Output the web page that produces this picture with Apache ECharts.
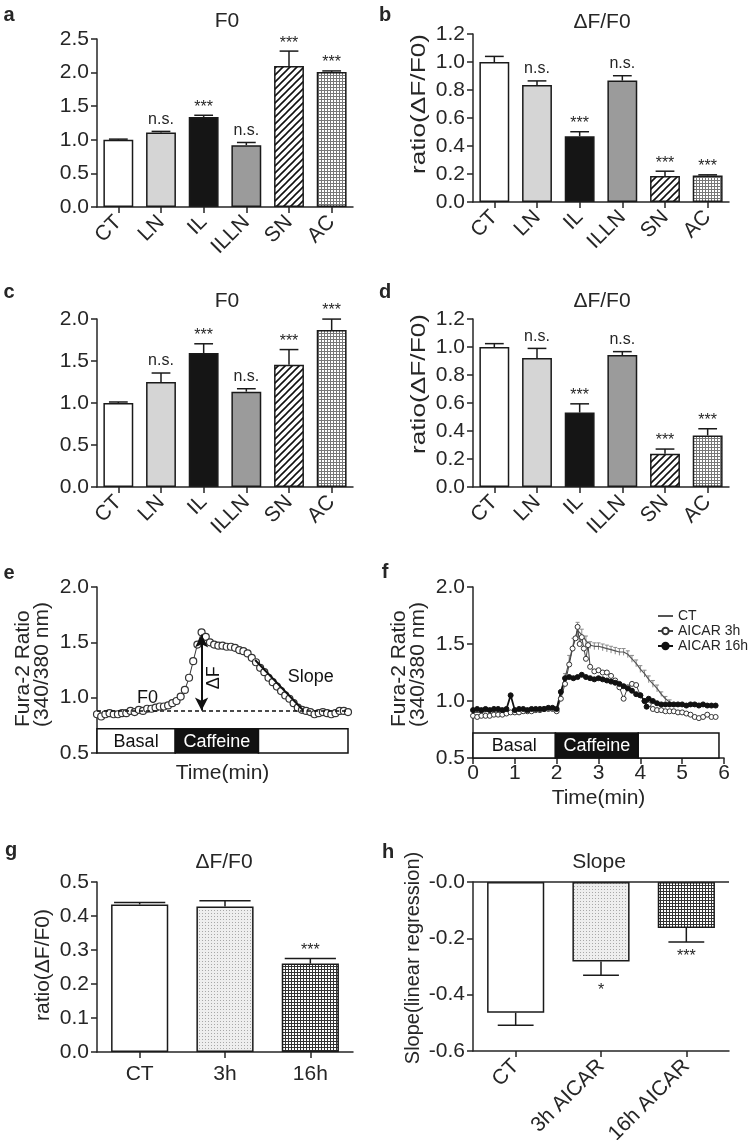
<!DOCTYPE html>
<html><head><meta charset="utf-8">
<script src="https://cdn.jsdelivr.net/npm/echarts@6/dist/echarts.min.js"></script>
<style>html,body{margin:0;padding:0;background:#fff}#c{width:752px;height:1140px}</style>
</head><body><div id="c"></div>
<script>
// ---------------- DATA ----------------
const groups6 = ['CT','LN','IL','ILLN','SN','AC'];
const aMean = [1.00, 1.11, 1.34, 0.92, 2.10, 2.01];
const aErr  = [0.01, 0.015, 0.025, 0.04, 0.22, 0.015];
const aSig  = ['', 'n.s.', '***', 'n.s.', '***', '***'];
const bMean = [1.00, 0.835, 0.47, 0.867, 0.185, 0.19];
const bErr  = [0.04, 0.03, 0.032, 0.035, 0.035, 0.004];
const bSig  = ['', 'n.s.', '***', 'n.s.', '***', '***'];
const cMean = [1.00, 1.25, 1.595, 1.135, 1.456, 1.869];
const cErr  = [0.012, 0.107, 0.11, 0.035, 0.18, 0.13];
const cSig  = ['', 'n.s.', '***', 'n.s.', '***', '***'];
const dMean = [1.00, 0.922, 0.532, 0.943, 0.238, 0.368];
const dErr  = [0.024, 0.068, 0.062, 0.024, 0.033, 0.048];
const dSig  = ['', 'n.s.', '***', 'n.s.', '***', '***'];

const eTime  = [0,0.1,0.2,0.3,0.4,0.5,0.6,0.7,0.8,0.9,1.0,1.1,1.2,1.3,1.4,1.5,1.6,1.7,1.8,1.9,2.0,2.1,2.2,2.3,2.4,2.5,2.6,2.7,2.8,2.9,3.0,3.1,3.2,3.3,3.4,3.5,3.6,3.7,3.8,3.9,4.0,4.1,4.2,4.3,4.4,4.5,4.6,4.7,4.8,4.9,5.0,5.1,5.2,5.3,5.4,5.5,5.6,5.7,5.8,5.9,6.0];
const eRatio = [0.85,0.83,0.85,0.86,0.85,0.85,0.86,0.86,0.88,0.87,0.89,0.88,0.90,0.90,0.91,0.92,0.92,0.93,0.95,0.97,1.01,1.07,1.18,1.33,1.48,1.59,1.55,1.50,1.48,1.47,1.47,1.46,1.46,1.45,1.43,1.42,1.40,1.36,1.32,1.27,1.23,1.18,1.14,1.10,1.06,1.02,0.99,0.95,0.91,0.89,0.88,0.87,0.85,0.86,0.87,0.86,0.85,0.86,0.88,0.88,0.87];
const eF0Level = 0.885;
const eDeltaF = [[2.5, 0.885], [2.5, 1.57]];
const eSlope  = [[3.78, 1.34], [4.93, 0.885]];
const eNotes  = [['F0', 1.21, 1.0], ['Slope', 5.11, 1.19], ['ΔF', 2.8, 1.18]];
const eStim   = [['Basal', 0, 1.87], ['Caffeine', 1.87, 3.86], ['', 3.86, 6]];
const fStim   = [['Basal', 0, 1.97], ['Caffeine', 1.97, 3.95], ['', 3.95, 5.88]];

const fCtTime = [0,0.2,0.4,0.6,0.8,1.0,1.2,1.4,1.6,1.8,2.0,2.1,2.2,2.3,2.4,2.5,2.6,2.7,2.8,2.9,3.0,3.1,3.2,3.3,3.4,3.5,3.6,3.7,3.8,3.9,4.0,4.1,4.2,4.3,4.4,4.5,4.6,4.7,4.8,5.0,5.2,5.4,5.6,5.8];
const fCt     = [0.90,0.90,0.91,0.91,0.91,0.91,0.92,0.92,0.92,0.93,0.93,1.05,1.20,1.35,1.50,1.62,1.58,1.53,1.49,1.48,1.48,1.47,1.46,1.45,1.44,1.43,1.43,1.41,1.37,1.33,1.28,1.24,1.19,1.15,1.11,1.06,1.02,0.99,0.97,0.97,0.97,0.97,0.96,0.96];
const fCtErr  = [0.01,0.01,0.01,0.01,0.01,0.01,0.01,0.01,0.01,0.01,0.01,0.03,0.04,0.05,0.05,0.07,0.05,0.04,0.03,0.03,0.03,0.03,0.03,0.03,0.03,0.03,0.03,0.03,0.03,0.03,0.03,0.03,0.03,0.03,0.03,0.02,0.02,0.02,0.01,0.01,0.01,0.01,0.01,0.01];
const f3hTime = [0,0.1,0.2,0.3,0.4,0.5,0.6,0.7,0.8,0.9,1.0,1.1,1.2,1.3,1.4,1.5,1.6,1.7,1.8,1.9,2.0,2.1,2.2,2.3,2.38,2.45,2.5,2.55,2.6,2.65,2.7,2.75,2.8,2.9,3.0,3.1,3.2,3.3,3.4,3.5,3.6,3.7,3.8,3.9,4.0,4.1,4.2,4.3,4.4,4.5,4.6,4.7,4.8,4.9,5.0,5.1,5.2,5.3,5.4,5.5,5.6,5.7,5.8];
const f3h     = [0.87,0.86,0.87,0.87,0.87,0.88,0.88,0.88,0.89,0.90,0.90,0.90,0.91,0.91,0.91,0.92,0.92,0.93,0.93,0.93,0.91,1.02,1.15,1.32,1.46,1.55,1.65,1.50,1.56,1.46,1.37,1.49,1.30,1.26,1.27,1.25,1.25,1.22,1.18,1.12,1.02,1.12,1.15,1.14,1.05,1.00,0.97,0.93,0.92,0.92,0.91,0.91,0.91,0.90,0.90,0.89,0.88,0.86,0.85,0.86,0.88,0.86,0.86];
const f16Time = [0,0.1,0.2,0.3,0.4,0.5,0.6,0.7,0.8,0.9,1.0,1.1,1.2,1.3,1.4,1.5,1.6,1.7,1.8,1.9,2.0,2.1,2.2,2.3,2.4,2.5,2.6,2.7,2.8,2.9,3.0,3.1,3.2,3.3,3.4,3.5,3.6,3.7,3.8,3.9,4.0,4.1,4.15,4.2,4.3,4.4,4.5,4.6,4.7,4.8,4.9,5.0,5.1,5.2,5.3,5.4,5.5,5.6,5.7,5.8];
const f16     = [0.92,0.93,0.92,0.93,0.92,0.93,0.93,0.92,0.93,1.05,0.92,0.93,0.93,0.92,0.93,0.93,0.93,0.93,0.94,0.94,0.93,1.08,1.20,1.21,1.20,1.21,1.23,1.21,1.20,1.19,1.20,1.19,1.18,1.17,1.16,1.15,1.13,1.11,1.09,1.06,1.05,1.00,0.95,1.02,1.00,0.98,0.97,0.97,0.97,0.97,0.97,0.97,0.96,0.97,0.97,0.96,0.97,0.96,0.96,0.96];
const fSeriesNames = ['CT', 'AICAR 3h', 'AICAR 16h'];

const groups3 = ['CT', '3h', '16h'];
const gMean = [0.434, 0.428, 0.26];
const gErr  = [0.006, 0.017, 0.015];
const gSig  = ['', '', '***'];
const hGroups = ['CT', '3h AICAR', '16h AICAR'];
const hMean = [-0.464, -0.282, -0.163];
const hErr  = [0.045, 0.049, 0.05];
const hSig  = ['', '*', '***'];

// ---------------- STYLE HELPERS ----------------
const FONT = '"Liberation Sans", Arial, sans-serif';
const INK = '#262626';
function pat(size, draw){ const c=document.createElement('canvas'); c.width=size; c.height=size; const x=c.getContext('2d'); draw(x,size); return {image:c, repeat:'repeat'}; }
const hatch = pat(7,(x,s)=>{x.fillStyle='#fff';x.fillRect(0,0,s,s);x.strokeStyle='#111';x.lineWidth=1.6;x.beginPath();x.moveTo(0,s);x.lineTo(s,0);x.moveTo(-1,1);x.lineTo(1,-1);x.moveTo(s-1,s+1);x.lineTo(s+1,s-1);x.stroke();});
const gridLight = pat(3,(x,s)=>{x.fillStyle='#fff';x.fillRect(0,0,s,s);x.fillStyle='#777';x.fillRect(0,0,s,1);x.fillRect(0,0,1,s);});
const gridDark = pat(3,(x,s)=>{x.fillStyle='#fff';x.fillRect(0,0,s,s);x.fillStyle='#333';x.fillRect(0,0,s,1);x.fillRect(0,0,1,s);});
const dots = pat(3,(x,s)=>{x.fillStyle='#eeeeee';x.fillRect(0,0,s,s);x.fillStyle='#a8a8a8';x.fillRect(1,1,1,1);});
const fills6 = ['#ffffff','#d5d5d5','#151515','#9b9b9b', hatch, gridLight];
const fills3 = ['#ffffff', dots, gridDark];

const axLine = {show:true, onZero:false, lineStyle:{color:INK, width:1.5}};
const axTick = {show:true, length:6, inside:false, lineStyle:{color:INK, width:1.5}};
const tickFont = {fontFamily:FONT, fontSize:21, color:INK};
const fmt1 = v => (Math.abs(v)<1e-9 ? '0.0' : v.toFixed(1));

const grids = [
  {left:97, top:39, width:256, height:168},
  {left:473, top:34, width:256, height:168},
  {left:97, top:319, width:256, height:168},
  {left:473, top:319, width:256, height:168},
  {left:97, top:587, width:251, height:166},
  {left:473, top:587, width:251, height:171},
  {left:97, top:882, width:256, height:170},
  {left:473, top:882, width:256, height:169}
].map(g => Object.assign({outerBoundsMode:'none', containLabel:false}, g));

function catAxis(i, cats, rot, margin){
  return {type:'category', gridIndex:i, data:cats, boundaryGap:true, axisLine:axLine,
    axisTick:Object.assign({alignWithLabel:true, interval:0}, axTick),
    axisLabel:Object.assign({rotate:rot, margin:margin, interval:0, hideOverlap:false}, tickFont), splitLine:{show:false}};
}
function valAxis(i, min, max, step, fmt){
  return {type:'value', gridIndex:i, min:min, max:max, interval:step, axisLine:Object.assign({}, axLine),
    axisTick:axTick, axisLabel:Object.assign({margin:8, formatter:fmt||fmt1, hideOverlap:false}, tickFont), splitLine:{show:false}};
}

function barSeries(i, vals, fills, bw){
  return {type:'bar', xAxisIndex:i, yAxisIndex:i, barWidth:bw, silent:true,
    data: vals.map((v,k)=>({value:v, itemStyle:{color:fills[k]}})),
    itemStyle:{borderColor:'#1a1a1a', borderWidth:1.5}};
}
function errSeries(i, vals, errs, sigs, capFrac){
  return {type:'custom', xAxisIndex:i, yAxisIndex:i, z:5, silent:true,
    data: vals.map((v,k)=>[k, v, errs[k]]),
    renderItem:(params, api)=>{
      const k=api.value(0), m=api.value(1), e=api.value(2);
      const below = m < 0;
      const end = below ? m - e : m + e;
      const p0=api.coord([k,m]), p1=api.coord([k,end]);
      const half = api.size([1,0])[0]*capFrac/2;
      const ch=[
        {type:'line', shape:{x1:p0[0],y1:p0[1],x2:p1[0],y2:p1[1]}, style:{stroke:'#1a1a1a', lineWidth:1.5}},
        {type:'line', shape:{x1:p1[0]-half,y1:p1[1],x2:p1[0]+half,y2:p1[1]}, style:{stroke:'#1a1a1a', lineWidth:1.5}}
      ];
      const s = sigs[params.dataIndex];
      if (s) {
        const star = s.indexOf('*')>=0;
        ch.push({type:'text', x:p1[0], y: below ? p1[1]+7 : p1[1]-(star?0:4),
          style:{text:s, align:'center', verticalAlign: below?'top':'bottom', font:'16px '+FONT, fill:INK}});
      }
      return {type:'group', children:ch};
    }};
}
function stimSeries(i, segs){
  return {type:'custom', xAxisIndex:i, yAxisIndex:i, z:6, silent:true,
    data: segs.map(s=>[s[1], s[2]]),
    renderItem:(params, api)=>{
      const lbl = segs[params.dataIndex][0];
      const dark = lbl === 'Caffeine';
      const p0 = api.coord([api.value(0), 0.72]), p1 = api.coord([api.value(1), 0.5]);
      return {type:'group', children:[
        {type:'rect', shape:{x:p0[0], y:p0[1], width:p1[0]-p0[0], height:p1[1]-p0[1]}, style:{fill: dark?'#111':'#fff', stroke:'#111', lineWidth:1.5}},
        {type:'text', x:(p0[0]+p1[0])/2, y:(p0[1]+p1[1])/2+1, style:{text:lbl, align:'center', verticalAlign:'middle', font:'18px '+FONT, fill: dark?'#fff':'#111'}}
      ]};
    }};
}
function ctErrSeries(){
  return {type:'custom', xAxisIndex:5, yAxisIndex:5, z:3, silent:true,
    data: fCtTime.map((t,k)=>[t, fCt[k], fCtErr[k]]),
    renderItem:(params, api)=>{
      const t=api.value(0), v=api.value(1), e=api.value(2);
      const a=api.coord([t, v+e]), b=api.coord([t, v-e]);
      return {type:'group', children:[
        {type:'line', shape:{x1:a[0],y1:a[1],x2:b[0],y2:b[1]}, style:{stroke:'#8a8a8a', lineWidth:1}},
        {type:'line', shape:{x1:a[0]-2,y1:a[1],x2:a[0]+2,y2:a[1]}, style:{stroke:'#8a8a8a', lineWidth:1}}
      ]};
    }};
}

// ---------------- AXES ----------------
const xAxes = [
  catAxis(0, groups6, 45, 12), catAxis(1, groups6, 45, 12), catAxis(2, groups6, 45, 12), catAxis(3, groups6, 45, 12),
  {type:'value', gridIndex:4, min:0, max:6, interval:1, axisLine:{show:false}, axisTick:{show:false}, axisLabel:{show:false}, splitLine:{show:false},
    name:'Time(min)', nameLocation:'middle', nameGap:10, nameTextStyle:{fontFamily:FONT, fontSize:21, color:INK, verticalAlign:'top'}},
  {type:'value', gridIndex:5, min:0, max:6, interval:1, axisLine:axLine, axisTick:axTick, axisLabel:Object.assign({margin:5, formatter:v=>String(v)}, tickFont), splitLine:{show:false},
    name:'Time(min)', nameLocation:'middle', nameGap:30, nameTextStyle:{fontFamily:FONT, fontSize:21, color:INK, verticalAlign:'top'}},
  catAxis(6, groups3, 0, 12),
  catAxis(7, hGroups, 45, 12)
];
const yAxes = [
  valAxis(0, 0, 2.5, 0.5), valAxis(1, 0, 1.2, 0.2), valAxis(2, 0, 2.0, 0.5), valAxis(3, 0, 1.2, 0.2),
  valAxis(4, 0.5, 2.0, 0.5), valAxis(5, 0.5, 2.0, 0.5), valAxis(6, 0, 0.5, 0.1),
  valAxis(7, -0.6, 0, 0.2, v => (Math.abs(v)<1e-9 ? '-0.0' : v.toFixed(1)))
];

// ---------------- SERIES ----------------
const series = [
  barSeries(0, aMean, fills6, '70%'), errSeries(0, aMean, aErr, aSig, 0.44),
  barSeries(1, bMean, fills6, '70%'), errSeries(1, bMean, bErr, bSig, 0.44),
  barSeries(2, cMean, fills6, '70%'), errSeries(2, cMean, cErr, cSig, 0.44),
  barSeries(3, dMean, fills6, '70%'), errSeries(3, dMean, dErr, dSig, 0.44),
  {type:'line', xAxisIndex:4, yAxisIndex:4, silent:true, z:4,
    data: eTime.map((t,k)=>[t, eRatio[k]]), symbol:'circle', symbolSize:7, showAllSymbol:true,
    itemStyle:{color:'#fff', borderColor:'#333', borderWidth:1.2}, lineStyle:{color:'#333', width:1},
    markLine:{silent:true, symbol:['none','none'], animation:false, label:{show:false},
      data:[
        [{coord:[0, eF0Level], lineStyle:{type:[4,3], color:'#111', width:1.5}}, {coord:[6, eF0Level]}],
        [{coord:eDeltaF[0], symbol:'arrow', symbolSize:[10,13], lineStyle:{type:'solid', color:'#111', width:2}}, {coord:eDeltaF[1], symbol:'arrow', symbolSize:[10,13]}],
        [{coord:eSlope[0], lineStyle:{type:'solid', color:'#111', width:2}}, {coord:eSlope[1]}]
      ]},
    markPoint:{silent:true, animation:false,
      data: eNotes.map(n=>({coord:[n[1], n[2]], symbol:'circle', symbolSize:0,
        label:{show:true, position:'inside', formatter:n[0], rotate: n[0]==='ΔF'?90:0, fontFamily:FONT, fontSize:18, color:'#111'}}))}
  },
  stimSeries(4, eStim),
  ctErrSeries(),
  {name:fSeriesNames[0], type:'line', xAxisIndex:5, yAxisIndex:5, silent:true, z:3,
    data: fCtTime.map((t,k)=>[t, fCt[k]]), symbol:'none', lineStyle:{color:'#555', width:1.2}, itemStyle:{color:'#555'}},
  {name:fSeriesNames[1], type:'line', xAxisIndex:5, yAxisIndex:5, silent:true, z:4,
    data: f3hTime.map((t,k)=>[t, f3h[k]]), symbol:'circle', symbolSize:5, showAllSymbol:true,
    itemStyle:{color:'#fff', borderColor:'#333', borderWidth:1}, lineStyle:{color:'#444', width:1}},
  {name:fSeriesNames[2], type:'line', xAxisIndex:5, yAxisIndex:5, silent:true, z:4,
    data: f16Time.map((t,k)=>[t, f16[k]]), symbol:'circle', symbolSize:5, showAllSymbol:true,
    itemStyle:{color:'#111', borderColor:'#111', borderWidth:1}, lineStyle:{color:'#111', width:1.8}},
  stimSeries(5, fStim),
  barSeries(6, gMean, fills3, '67%'), errSeries(6, gMean, gErr, gSig, 0.6),
  Object.assign(barSeries(7, hMean, fills3, '67%'), {markLine:{silent:true, symbol:['none','none'], label:{show:false}, animation:false,
    lineStyle:{type:'solid', color:INK, width:1.5}, data:[{yAxis:0}]}}),
  errSeries(7, hMean, hErr, hSig, 0.42)
];

// ---------------- TEXT (letters, titles, axis names) ----------------
function txt(x, y, s, font, extra){ return Object.assign({type:'text', x:x, y:y, silent:true, style:{text:s, font:font, fill:INK, align:'center', verticalAlign:'middle'}}, extra||{}); }
function vtxt(x, y, s, size, sx, align){ return {type:'text', x:x, y:y, rotation:Math.PI/2, scaleX:sx||1, silent:true,
  style:{text:s, font:size+'px '+FONT, fill:INK, align:align||'center', verticalAlign:'middle'}}; }
const graphics = [
  txt(9, 15, 'a', 'bold 20px '+FONT), txt(385, 15, 'b', 'bold 20px '+FONT),
  txt(9, 292, 'c', 'bold 20px '+FONT), txt(385, 292, 'd', 'bold 20px '+FONT),
  txt(9, 573, 'e', 'bold 20px '+FONT), txt(385, 572, 'f', 'bold 20px '+FONT),
  txt(11, 850, 'g', 'bold 20px '+FONT), txt(388, 852, 'h', 'bold 20px '+FONT),
  txt(227, 21, 'F0', '21px '+FONT), txt(602, 22, 'ΔF/F0', '21px '+FONT),
  txt(227, 301, 'F0', '21px '+FONT), txt(602, 301, 'ΔF/F0', '21px '+FONT),
  txt(224, 862, 'ΔF/F0', '21px '+FONT), txt(599, 862, 'Slope', '21px '+FONT),
  vtxt(419, 104, 'ratio(ΔF/F0)', 21, 1.25), vtxt(419, 384, 'ratio(ΔF/F0)', 21, 1.25),
  vtxt(43, 965, 'ratio(ΔF/F0)', 21), vtxt(413, 958, 'Slope(linear regression)', 20),
  vtxt(23, 727, 'Fura-2 Ratio', 21, 1, 'left'), vtxt(42, 727, '(340/380 nm)', 21, 1, 'left'),
  vtxt(399, 727, 'Fura-2 Ratio', 21, 1, 'left'), vtxt(418, 727, '(340/380 nm)', 21, 1, 'left')
];

const clear = 'rgba(0,0,0,0)';
const option = {
  animation:false, backgroundColor:'#fff',
  textStyle:{fontFamily:FONT},
  grid:grids, xAxis:xAxes, yAxis:yAxes, series:series, graphic:graphics,
  legend:{data:[
      {name:fSeriesNames[0], itemStyle:{color:clear, borderColor:clear, borderWidth:0}},
      {name:fSeriesNames[1]},
      {name:fSeriesNames[2]}
    ], orient:'vertical', left:652, top:604, itemWidth:15, itemHeight:8, itemGap:1,
    textStyle:{fontFamily:FONT, fontSize:14, color:INK}, selectedMode:false}
};
const chart = echarts.init(document.getElementById('c'), null, {renderer:'canvas', width:752, height:1140});
chart.setOption(option);
</script></body></html>
